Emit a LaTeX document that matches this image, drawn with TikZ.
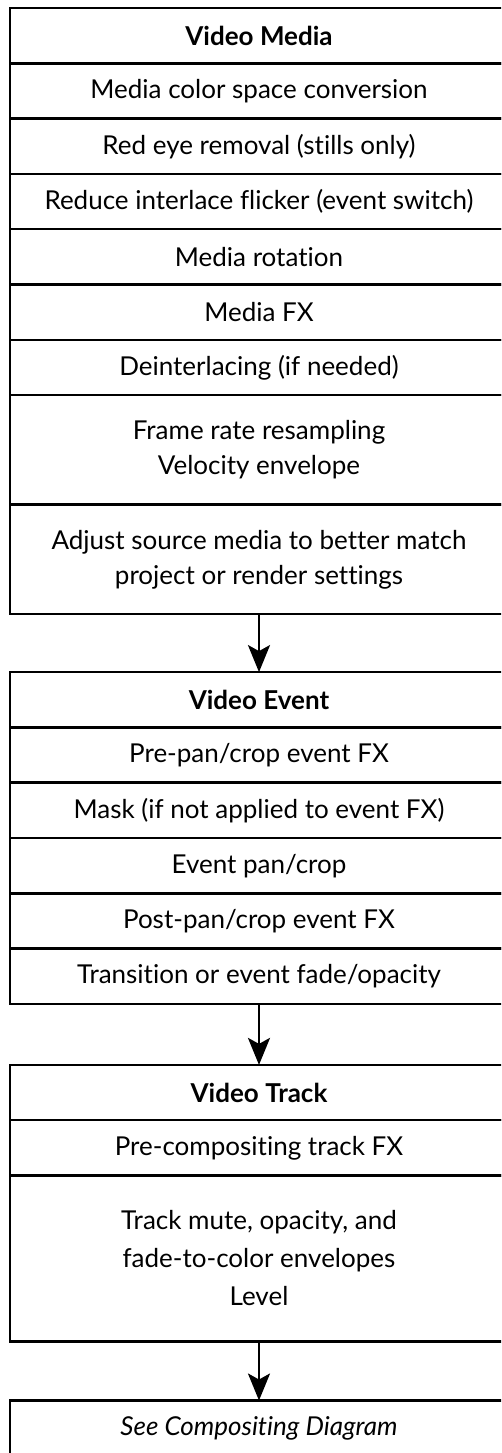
\documentclass[tikz,border=0pt]{standalone}
\usepackage{fontspec}
\setmainfont[Ligatures=NoCommon]{Lato}
\usetikzlibrary{positioning,arrows.meta}

\begin{document}
\begin{tikzpicture}[x=1pt, y=1pt, line width=2.5pt,
  >={Stealth[length=27pt, width=22pt, inset=6pt]},
  row/.style={draw, minimum width=498pt, minimum height=55.3pt,
    inner sep=0pt, outer sep=0pt, align=center,
    font=\fontsize{26}{35}\selectfont},
  tworow/.style={row, minimum height=109.5pt},
  threerow/.style={row, minimum height=166pt, font=\fontsize{26}{38}\selectfont},
  head/.style={row, font=\fontsize{26}{35}\selectfont\bfseries}]
  % page, cut at the right and at the bottom
  \useasboundingbox (0,0) rectangle (501,-1453);
  \clip (0,0) rectangle (501,-1453);

  % 1. Video Media
  \node[head, anchor=north] (m0) at (259,-8) {Video Media};
  \node[row, below=0pt of m0] (m1) {Media color space conversion};
  \node[row, below=0pt of m1] (m2) {Red eye removal (stills only)};
  \node[row, below=0pt of m2] (m3) {Reduce interlace flicker (event switch)};
  \node[row, below=0pt of m3] (m4) {Media rotation};
  \node[row, below=0pt of m4] (m5) {Media FX};
  \node[row, below=0pt of m5] (m6) {Deinterlacing (if needed)};
  \node[tworow, below=0pt of m6] (m7) {Frame rate resampling\\Velocity envelope};
  \node[tworow, below=0pt of m7] (m8) {Adjust source media to better match\\project or render settings};

  % 2. Video Event
  \node[head, below=58pt of m8] (e0) {Video Event};
  \node[row, below=0pt of e0] (e1) {Pre-pan/crop event FX};
  \node[row, below=0pt of e1] (e2) {Mask (if not applied to event FX)};
  \node[row, below=0pt of e2] (e3) {Event pan/crop};
  \node[row, below=0pt of e3] (e4) {Post-pan/crop event FX};
  \node[row, below=0pt of e4] (e5) {Transition or event fade/opacity};

  % 3. Video Track
  \node[head, below=61pt of e5] (t0) {Video Track};
  \node[row, below=0pt of t0] (t1) {Pre-compositing track FX};
  \node[threerow, below=0pt of t1] (t2) {Track mute, opacity, and\\fade-to-color envelopes\\Level};

  % 4. Compositing
  \node[row, below=59pt of t2] (c0) {\itshape See Compositing Diagram};

  % 5. Arrows between the boxes
  \draw[->] (m8.south) -- (e0.north);
  \draw[->] (e5.south) -- (t0.north);
  \draw[->] (t2.south) -- (c0.north);

\end{tikzpicture}
\end{document}
